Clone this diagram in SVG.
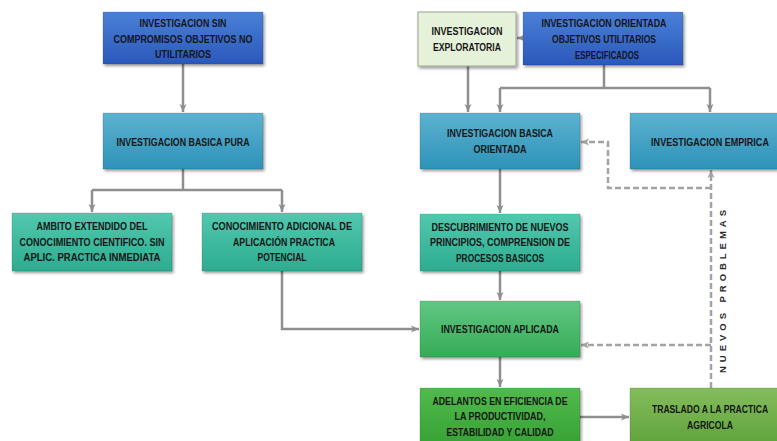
<svg xmlns="http://www.w3.org/2000/svg" width="777" height="441" viewBox="0 0 777 441">
  <defs>
    <linearGradient id="gBlue" x1="0" y1="0" x2="0" y2="1">
      <stop offset="0" stop-color="#4b80d7"/>
      <stop offset="1" stop-color="#2a58bc"/>
    </linearGradient>
    <linearGradient id="gCyan" x1="0" y1="0" x2="0" y2="1">
      <stop offset="0" stop-color="#5cb2d0"/>
      <stop offset="1" stop-color="#2e92b8"/>
    </linearGradient>
    <linearGradient id="gTeal" x1="0" y1="0" x2="0" y2="1">
      <stop offset="0" stop-color="#52c8ad"/>
      <stop offset="1" stop-color="#2dac91"/>
    </linearGradient>
    <linearGradient id="gGreenA" x1="0" y1="0" x2="0" y2="1">
      <stop offset="0" stop-color="#60c783"/>
      <stop offset="1" stop-color="#37ab56"/>
    </linearGradient>
    <linearGradient id="gGreenB" x1="0" y1="0" x2="0" y2="1">
      <stop offset="0" stop-color="#52ba4c"/>
      <stop offset="1" stop-color="#38a336"/>
    </linearGradient>
    <linearGradient id="gGreenC" x1="0" y1="0" x2="0" y2="1">
      <stop offset="0" stop-color="#84bd5c"/>
      <stop offset="1" stop-color="#62a43d"/>
    </linearGradient>
    <filter id="shadow" x="-10%" y="-15%" width="125%" height="140%">
      <feDropShadow dx="1.5" dy="2" stdDeviation="1.5" flood-color="#000" flood-opacity="0.4"/>
    </filter>
    <marker id="arrow" markerUnits="userSpaceOnUse" markerWidth="10" markerHeight="10" refX="9" refY="5" orient="auto">
      <path d="M1,1.5 L9,5 L1,8.5 L3,5 Z" fill="#8f8f8f"/>
    </marker>
    <marker id="arrowD" markerUnits="userSpaceOnUse" markerWidth="10" markerHeight="10" refX="9" refY="5" orient="auto">
      <path d="M1,1.5 L9,5 L1,8.5 L3,5 Z" fill="#a3a3a3"/>
    </marker>
  </defs>
  <style>
    .box { filter: url(#shadow); stroke: #000; stroke-opacity: 0.12; stroke-width: 1; }
    .lbl { font-family: "Liberation Sans", Arial, sans-serif; font-weight: bold; font-size: 11px; fill: #161616; text-anchor: middle; }
    .side { font-family: "Liberation Sans", Arial, sans-serif; font-weight: bold; font-size: 9.5px; fill: #2a2a2a; text-anchor: middle; }
    .conn { fill: none; stroke: #8f8f8f; stroke-width: 2.5; }
    .dash { fill: none; stroke: #a3a3a3; stroke-width: 2.5; stroke-dasharray: 6 3; }
  </style>

  <rect width="777" height="441" fill="#ffffff"/>

  <!-- connectors -->
  <g id="connectors">
    <path class="conn" d="M183,64 V112" marker-end="url(#arrow)"/>
    <path class="conn" d="M183,169 V190"/>
    <path class="conn" d="M92,190 H282"/>
    <path class="conn" d="M92,190 V212" marker-end="url(#arrow)"/>
    <path class="conn" d="M282,190 V212" marker-end="url(#arrow)"/>
    <path class="conn" d="M282,271 V329 H419" marker-end="url(#arrow)"/>
    <path class="conn" d="M523,38 H517" marker-end="url(#arrow)"/>
    <path class="conn" d="M468,66 V112" marker-end="url(#arrow)"/>
    <path class="conn" d="M604,65 V88"/>
    <path class="conn" d="M500,88 H710"/>
    <path class="conn" d="M500,88 V112" marker-end="url(#arrow)"/>
    <path class="conn" d="M710,88 V112" marker-end="url(#arrow)"/>
    <path class="conn" d="M500,169 V213" marker-end="url(#arrow)"/>
    <path class="conn" d="M500,271 V300" marker-end="url(#arrow)"/>
    <path class="conn" d="M500,357 V387" marker-end="url(#arrow)"/>
    <path class="conn" d="M580,417 H629" marker-end="url(#arrow)"/>
    <path class="dash" d="M711,388 V170" marker-end="url(#arrowD)"/>
    <path class="dash" d="M711,188 H608 V142 H581" marker-end="url(#arrowD)"/>
    <path class="dash" d="M711,345 H581" marker-end="url(#arrowD)"/>
  </g>

  <text class="side" transform="translate(726,291.5) rotate(-90)" textLength="163" lengthAdjust="spacing">NUEVOS PROBLEMAS</text>

  <!-- left column -->
  <g id="n-sin-compromisos">
    <rect class="box" x="103" y="12" width="160" height="52" fill="url(#gBlue)"/>
    <text class="lbl" x="183" y="27" textLength="87" lengthAdjust="spacingAndGlyphs">INVESTIGACION SIN</text>
    <text class="lbl" x="183" y="42.5" textLength="139" lengthAdjust="spacingAndGlyphs">COMPROMISOS OBJETIVOS NO</text>
    <text class="lbl" x="183" y="58" textLength="56" lengthAdjust="spacingAndGlyphs">UTILITARIOS</text>
  </g>
  <g id="n-basica-pura">
    <rect class="box" x="103" y="113" width="160" height="56" fill="url(#gCyan)"/>
    <text class="lbl" x="183" y="145.5" textLength="133" lengthAdjust="spacingAndGlyphs">INVESTIGACION BASICA PURA</text>
  </g>
  <g id="n-ambito">
    <rect class="box" x="12" y="213" width="160" height="58" fill="url(#gTeal)"/>
    <text class="lbl" x="92" y="230" textLength="111" lengthAdjust="spacingAndGlyphs">AMBITO EXTENDIDO DEL</text>
    <text class="lbl" x="92" y="245.5" textLength="145" lengthAdjust="spacingAndGlyphs">CONOCIMIENTO CIENTIFICO. SIN</text>
    <text class="lbl" x="92" y="261" textLength="137" lengthAdjust="spacingAndGlyphs">APLIC. PRACTICA INMEDIATA</text>
  </g>
  <g id="n-conocimiento">
    <rect class="box" x="202" y="213" width="160" height="58" fill="url(#gTeal)"/>
    <text class="lbl" x="282" y="230" textLength="140" lengthAdjust="spacingAndGlyphs">CONOCIMIENTO ADICIONAL DE</text>
    <text class="lbl" x="284" y="245.5" textLength="102" lengthAdjust="spacingAndGlyphs">APLICACIÓN PRACTICA</text>
    <text class="lbl" x="282" y="261" textLength="49" lengthAdjust="spacingAndGlyphs">POTENCIAL</text>
  </g>

  <!-- right column -->
  <g id="n-exploratoria">
    <rect class="box" x="418" y="12" width="98" height="54" fill="#e6f1da" style="stroke:#9aa392;stroke-opacity:1"/>
    <text class="lbl" x="467" y="35" textLength="71" lengthAdjust="spacingAndGlyphs">INVESTIGACION</text>
    <text class="lbl" x="467" y="51" textLength="68" lengthAdjust="spacingAndGlyphs">EXPLORATORIA</text>
  </g>
  <g id="n-orientada">
    <rect class="box" x="523" y="12" width="160" height="53" fill="url(#gBlue)"/>
    <text class="lbl" x="604" y="27" textLength="125" lengthAdjust="spacingAndGlyphs">INVESTIGACION ORIENTADA</text>
    <text class="lbl" x="604" y="43" textLength="104" lengthAdjust="spacingAndGlyphs">OBJETIVOS UTILITARIOS</text>
    <text class="lbl" x="607" y="59" textLength="64" lengthAdjust="spacingAndGlyphs">ESPECIFICADOS</text>
  </g>
  <g id="n-basica-orientada">
    <rect class="box" x="420" y="113" width="160" height="56" fill="url(#gCyan)"/>
    <text class="lbl" x="500" y="137" textLength="106" lengthAdjust="spacingAndGlyphs">INVESTIGACION BASICA</text>
    <text class="lbl" x="500" y="153" textLength="53" lengthAdjust="spacingAndGlyphs">ORIENTADA</text>
  </g>
  <g id="n-empirica">
    <rect class="box" x="630" y="113" width="148" height="56" fill="url(#gCyan)"/>
    <!-- narrowed horizontally so the label sits inside the visible width -->
    <text class="lbl" transform="translate(710,145.5) scale(0.78,1)" x="0" y="0" textLength="151" lengthAdjust="spacingAndGlyphs">INVESTIGACION EMPIRICA</text>
  </g>
  <g id="n-descubrimiento">
    <rect class="box" x="420" y="214" width="160" height="57" fill="url(#gTeal)"/>
    <text class="lbl" x="500" y="230.5" textLength="137" lengthAdjust="spacingAndGlyphs">DESCUBRIMIENTO DE NUEVOS</text>
    <text class="lbl" x="500" y="246" textLength="140" lengthAdjust="spacingAndGlyphs">PRINCIPIOS, COMPRENSION DE</text>
    <text class="lbl" x="500" y="261.5" textLength="88" lengthAdjust="spacingAndGlyphs">PROCESOS BASICOS</text>
  </g>
  <g id="n-aplicada">
    <rect class="box" x="420" y="301" width="160" height="56" fill="url(#gGreenA)"/>
    <text class="lbl" x="500" y="333" textLength="118" lengthAdjust="spacingAndGlyphs">INVESTIGACION APLICADA</text>
  </g>
  <g id="n-adelantos">
    <rect class="box" x="420" y="388" width="160" height="54" fill="url(#gGreenB)"/>
    <text class="lbl" x="500" y="404.5" textLength="135" lengthAdjust="spacingAndGlyphs">ADELANTOS EN EFICIENCIA DE</text>
    <text class="lbl" x="500" y="420" textLength="91" lengthAdjust="spacingAndGlyphs">LA PRODUCTIVIDAD,</text>
    <text class="lbl" x="500" y="435.5" textLength="107" lengthAdjust="spacingAndGlyphs">ESTABILIDAD Y CALIDAD</text>
  </g>
  <g id="n-traslado">
    <rect class="box" x="630" y="388" width="148" height="54" fill="url(#gGreenC)"/>
    <text class="lbl" transform="translate(710,413) scale(0.78,1)" x="0" y="0" textLength="149" lengthAdjust="spacingAndGlyphs">TRASLADO A LA PRACTICA</text>
    <text class="lbl" x="710" y="428.5" textLength="46" lengthAdjust="spacingAndGlyphs">AGRICOLA</text>
  </g>
</svg>
